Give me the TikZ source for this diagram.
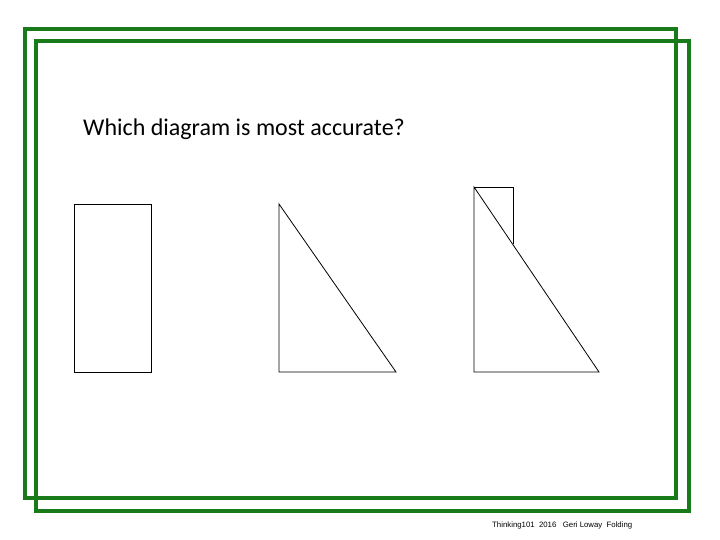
\documentclass[tikz,border=0pt]{standalone}
\usepackage{fontspec}
\setmainfont{Carlito}
\newfontfamily\footfont{Liberation Sans}
\definecolor{frame}{RGB}{24,122,24}
\begin{document}
\begin{tikzpicture}[x=1pt,y=-1pt,
  frm/.style={draw=frame,line width=4pt},
  shp/.style={draw=black,line width=0.8pt}]
\useasboundingbox (0,0) rectangle (720,540);
\draw[frm] (25,29) rectangle (676,498);
\draw[frm] (36,41) rectangle (689,511);
\node[anchor=base west,inner sep=0pt,font=\fontsize{24}{28}\selectfont] (q) at (83,136) {Which diagram is most accurate?};
\draw[shp] (74,204) rectangle (151,372);
\draw[shp] (279,204) -- (279,372) -- (396,372) -- cycle;
\coordinate (a) at (474,187);
\coordinate (b) at (599,372);
\coordinate (c) at (474,372);
\draw[shp] (a) -- (c) -- (b) -- cycle;
\draw[shp] (a) -- (513,187) -- (513,244);
\node[anchor=base west,inner sep=0pt,font=\footfont\fontsize{7.8}{9}\selectfont] (f) at (492,527) {Thinking101\ \ 2016\ \ \ Geri Loway\ \ Folding};
\end{tikzpicture}
\end{document}
